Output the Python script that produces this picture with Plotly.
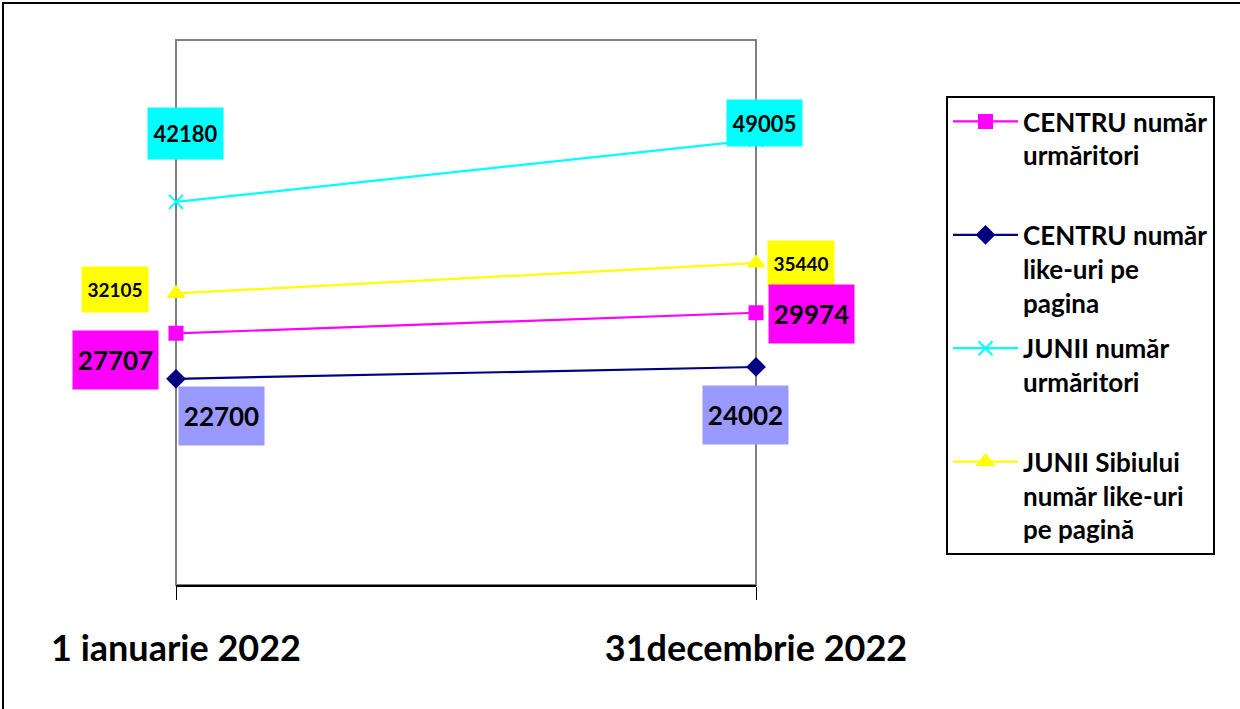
import plotly.graph_objects as go

categories = ["1 ianuarie 2022", "31decembrie 2022"]
series_names = [
    "CENTRU număr<br>urmăritori<br> ",
    "CENTRU număr<br>like-uri pe<br>pagina",
    "JUNII număr<br>urmăritori<br> ",
    "JUNII Sibiului<br>număr like-uri<br>pe pagină",
]
centru_urmaritori = [27707, 29974]
centru_like = [22700, 24002]
junii_urmaritori = [42180, 49005]
junii_like = [32105, 35440]

FONT = "Lato"
xpos = [0, 1]

fig = go.Figure()

styles = [
    (centru_urmaritori, "#FF00FF", "square", 13),
    (centru_like, "#000080", "diamond", 13),
    (junii_urmaritori, "#00FFFF", "x-thin-open", 14),
    (junii_like, "#FFFF00", "triangle-up", 14),
]
for k, (name, (vals, col, sym, sz)) in enumerate(zip(series_names, styles)):
    fig.add_trace(go.Scatter(
        x=xpos, y=vals, name=name, mode="lines+markers", legendgroup=f"g{k}",
        line=dict(color=col, width=2.2),
        marker=dict(symbol=sym, size=sz, color=col, line=dict(color=col, width=2)),
        cliponaxis=False,
    ))

# data labels: (values, index, bg, font size, xshift, yshift, w, h)
labels = [
    (junii_urmaritori, 0, "#00FFFF", 22, 9, 68, 73, 49),
    (junii_urmaritori, 1, "#00FFFF", 22, 8, 17, 73, 44),
    (junii_like, 0, "#FFFF00", 19, -61, 4, 64, 43),
    (junii_like, 1, "#FFFF00", 19, 45, 0, 64, 43),
    (centru_urmaritori, 0, "#FF00FF", 26, -61, -27, 83, 56),
    (centru_urmaritori, 1, "#FF00FF", 26, 55, -1, 83, 56),
    (centru_like, 0, "#9999FF", 26, 45, -37, 83, 56),
    (centru_like, 1, "#9999FF", 26, -11, -48, 83, 56),
]
for vals, i, bg, fs, xs, ys, w, h in labels:
    fig.add_annotation(
        x=xpos[i], y=vals[i], xref="x", yref="y", text=str(vals[i]),
        showarrow=False, xshift=xs, yshift=ys, bgcolor=bg, width=w, height=h,
        font=dict(family=FONT, size=fs, color="black", weight="bold"),
        xanchor="center", yanchor="middle",
    )

W, H = 1240, 709
L, R, T, B = 176, 484, 40, 124
pw, ph = W - L - R, H - T - B

def px(x):
    return (x - L) / pw

def py(y):
    return (H - B - y) / ph

# outer frame
fig.add_shape(type="rect", xref="paper", yref="paper",
              x0=px(3), x1=px(1250), y0=py(3), y1=py(720),
              line=dict(color="black", width=2), layer="below")
# plot area border (gray)
fig.add_shape(type="rect", xref="paper", yref="paper", x0=0, x1=1, y0=0, y1=1,
              line=dict(color="#808080", width=2), layer="below")

fig.update_layout(
    width=W, height=H,
    margin=dict(l=L, r=R, t=T, b=B),
    paper_bgcolor="white", plot_bgcolor="white",
    showlegend=True,
    legend=dict(
        x=px(946), y=py(96), xanchor="left", yanchor="top",
        bordercolor="black", borderwidth=2, bgcolor="white",
        font=dict(family=FONT, size=26, color="black", weight="bold"),
        valign="top", itemwidth=65, tracegroupgap=9,
        traceorder="grouped",
    ),
    xaxis=dict(
        range=[0, 1], tickvals=xpos, ticktext=categories,
        showgrid=False, zeroline=False, showline=True, linecolor="black", linewidth=2,
        ticks="outside", ticklen=13, tickcolor="black", tickwidth=1,
        tickfont=dict(family=FONT, size=36, color="black", weight="bold"),
        ticklabelstandoff=18,
    ),
    yaxis=dict(range=[0, 60000], visible=False, showgrid=False, zeroline=False),
)

fig.write_html("out.html", config={"displayModeBar": False},
               post_script="document.body.style.margin='0';document.body.style.overflow='hidden';")
